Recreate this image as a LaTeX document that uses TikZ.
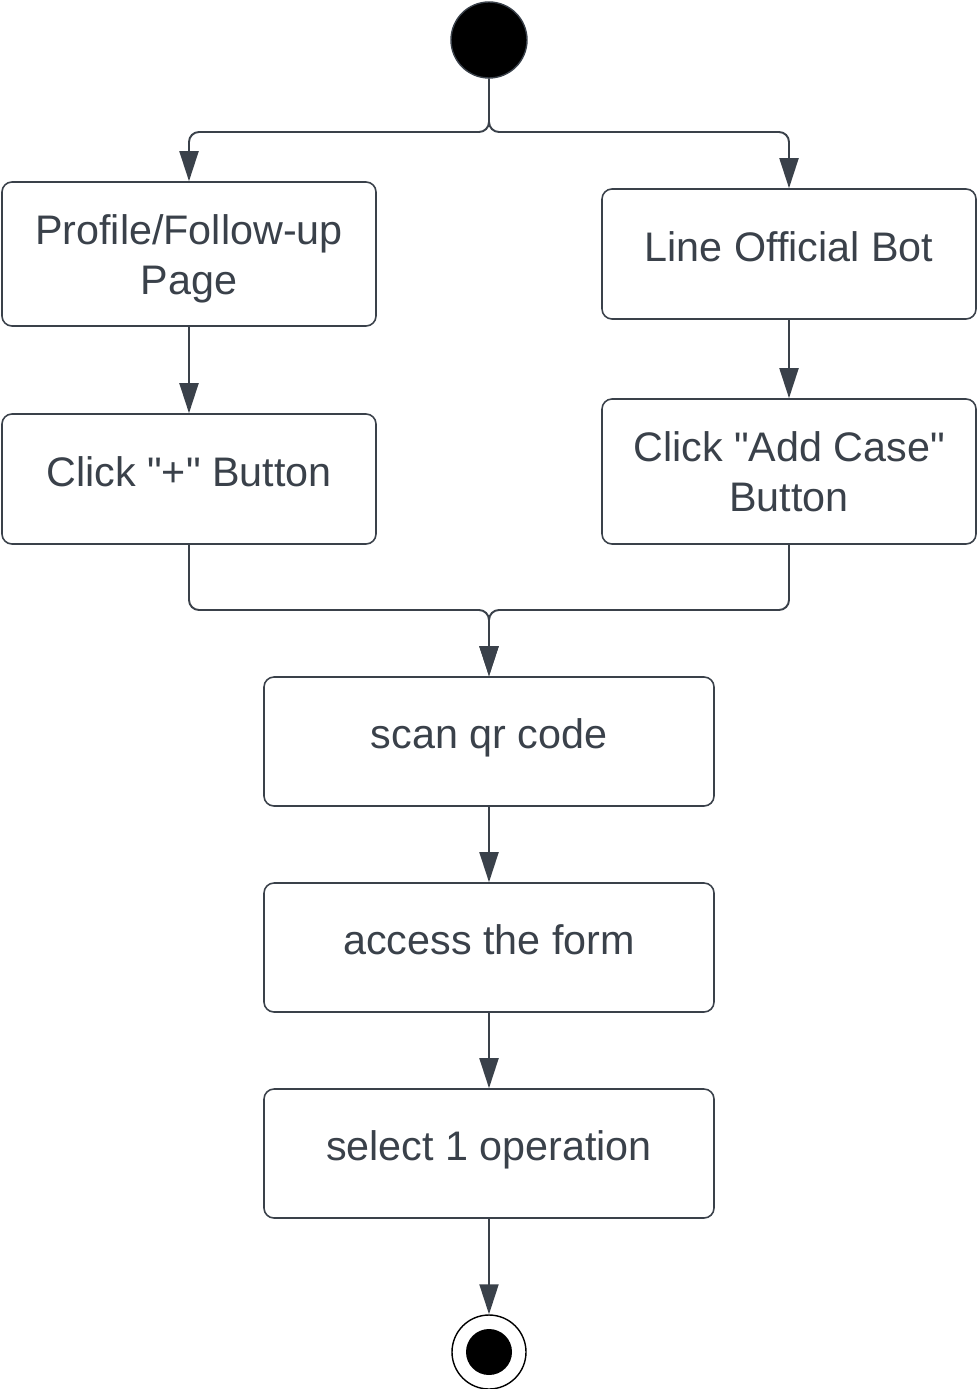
\documentclass[tikz,border=0pt]{standalone}
\usepackage{fontspec}
\setmainfont{Liberation Sans}
\usetikzlibrary{arrows.meta}
\definecolor{inkgray}{RGB}{58,65,74}
\newcommand{\lowerstrut}{\rule{0pt}{23pt}}
\tikzset{
  actbox/.style={draw=inkgray, line width=0.9pt, rounded corners=0.2cm, align=center,
    text=inkgray, font=\fontsize{23.5}{28.5}\selectfont, inner sep=0pt,
    text height=17pt, text depth=9pt},
  twoline/.style={text height=, text depth=},
  flow/.style={draw=inkgray, line width=1.1pt, rounded corners=0.2cm,
    -{Triangle[length=0.6cm,width=0.38cm]}},
}
\begin{document}
\begin{tikzpicture}
			%%%%% START %%%%%
			\useasboundingbox (0, 0) rectangle (19.54, -27.78);
			
			\node[circle, fill=black, draw=inkgray, line width=0.8pt, minimum size=1.52cm, inner sep=0pt] (start) at (9.78, -0.8) {};
			
			\node[actbox, twoline, minimum width=7.48cm, minimum height=2.88cm] (profile) at (3.78, -5.08) {\lowerstrut Profile/Follow-up\\Page};
			\node[actbox, minimum width=7.48cm, minimum height=2.6cm] (linebot) at (15.78, -5.08) {Line Official Bot};
			
			\node[actbox, minimum width=7.48cm, minimum height=2.6cm] (plusbtn) at (3.78, -9.58) {Click \textquotedbl+\textquotedbl{} Button};
			\node[actbox, twoline, minimum width=7.48cm, minimum height=2.9cm] (addcase) at (15.78, -9.43) {Click \textquotedbl Add Case\textquotedbl\\Button};
			
			\node[actbox, minimum width=9cm, minimum height=2.58cm] (scan) at (9.78, -14.83) {scan qr code};
			\node[actbox, minimum width=9cm, minimum height=2.58cm] (access) at (9.78, -18.95) {access the form};
			\node[actbox, minimum width=9cm, minimum height=2.58cm] (select) at (9.78, -23.07) {select 1 operation};
			
			\node[circle, fill=white, draw=black, line width=0.8pt, minimum size=1.48cm, inner sep=0pt] (finish) at (9.78, -27.04) {};
			\node[circle, fill=black, minimum size=0.92cm, inner sep=0pt] (finishdot) at (finish) {};
			
			\coordinate (fork) at (9.78, -2.64);
			\coordinate (join) at (9.78, -12.2);
			
			\draw[flow] (start) -- (fork) -| (profile);
			\draw[flow] (start) -- (fork) -| (linebot);
			\draw[flow] (profile) -- (plusbtn);
			\draw[flow] (linebot) -- (addcase);
			\draw[flow] (plusbtn) |- (join) -- (scan);
			\draw[flow] (addcase) |- (join) -- (scan);
			\draw[flow] (scan) -- (access);
			\draw[flow] (access) -- (select);
			\draw[flow] (select) -- (finish);
			
			%%%%% END %%%%%
\end{tikzpicture}
\end{document}
